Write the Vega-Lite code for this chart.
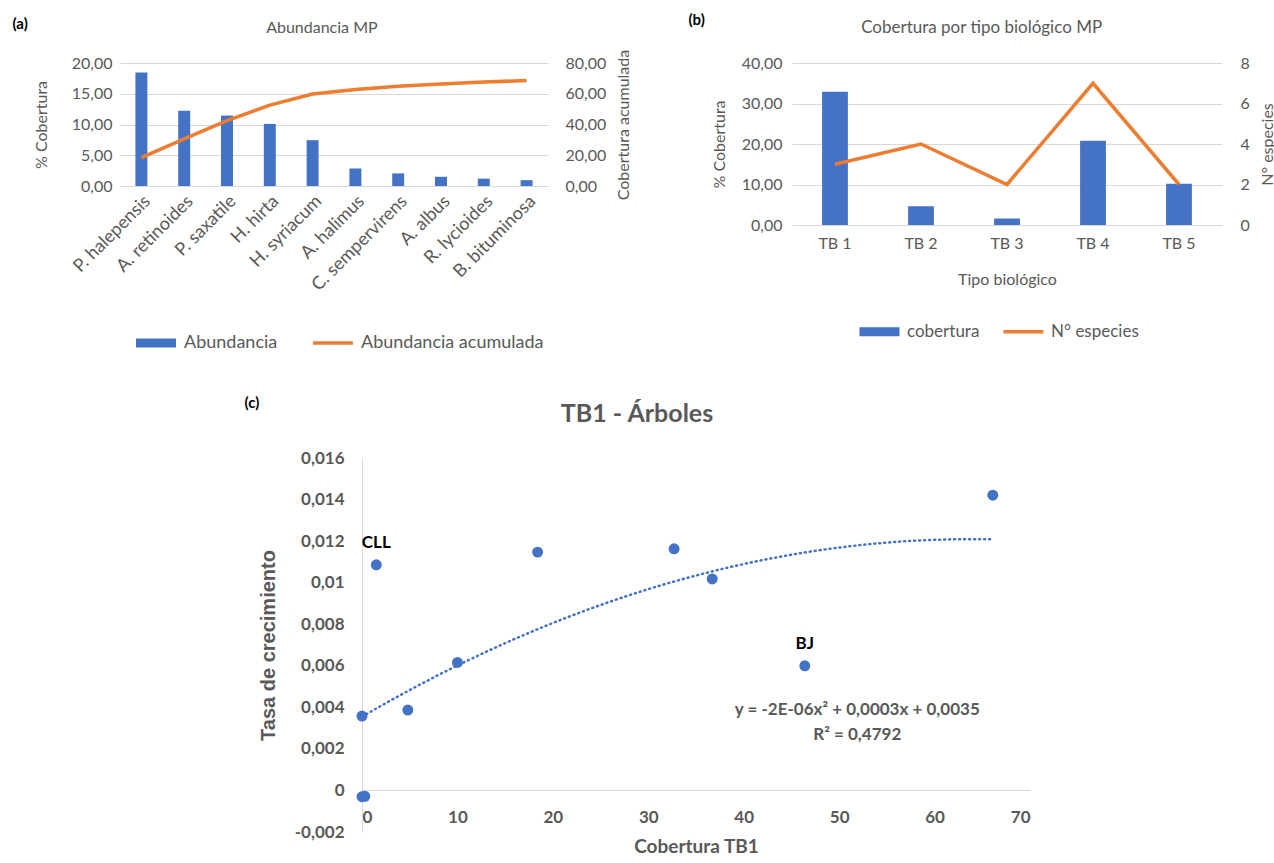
{
  "$schema": "https://vega.github.io/schema/vega-lite/v6.json",
  "background": "white",
  "padding": {"left": 12, "top": 12, "right": 0, "bottom": 0},
  "config": {
    "locale": {"number": {"decimal": ",", "thousands": ".", "grouping": [3], "currency": ["", " €"], "minus": "-"}},
    "font": "Lato",
    "view": {"stroke": null},
    "axis": {"labelColor": "#595959", "titleColor": "#595959", "labelFont": "Lato", "titleFont": "Lato", "labelFontSize": 16, "titleFontSize": 16, "titleFontWeight": "normal", "gridColor": "#d9d9d9", "domainColor": "#d9d9d9", "ticks": false},
    "legend": {"labelFont": "Lato", "labelFontSize": 16, "labelColor": "#595959", "labelLimit": 400},
    "title": {"font": "Lato", "fontWeight": "normal", "color": "#595959"}
  },
  "datasets": {
    "abundancia": [
      {"especie": "P. halepensis", "abundancia": 18.45, "acumulada": 18.4},
      {"especie": "A. retinoides", "abundancia": 12.25, "acumulada": 30.7},
      {"especie": "P. saxatile", "abundancia": 11.45, "acumulada": 42.5},
      {"especie": "H. hirta", "abundancia": 10.1, "acumulada": 52.6},
      {"especie": "H. syriacum", "abundancia": 7.45, "acumulada": 59.8},
      {"especie": "A. halimus", "abundancia": 2.85, "acumulada": 62.8},
      {"especie": "C. sempervirens", "abundancia": 2.05, "acumulada": 64.9},
      {"especie": "A. albus", "abundancia": 1.5, "acumulada": 66.3},
      {"especie": "R. lycioides", "abundancia": 1.2, "acumulada": 67.6},
      {"especie": "B. bituminosa", "abundancia": 0.95, "acumulada": 68.6}
    ],
    "tipos": [
      {"tipo": "TB 1", "cobertura": 32.9, "especies": 3},
      {"tipo": "TB 2", "cobertura": 4.6, "especies": 4},
      {"tipo": "TB 3", "cobertura": 1.6, "especies": 2},
      {"tipo": "TB 4", "cobertura": 20.8, "especies": 7},
      {"tipo": "TB 5", "cobertura": 10.2, "especies": 2}
    ],
    "crecimiento": [
      {"cobertura": 0, "tasa": 0.00358, "etiqueta": ""},
      {"cobertura": 0, "tasa": -0.0003, "etiqueta": ""},
      {"cobertura": 0.3, "tasa": -0.00028, "etiqueta": ""},
      {"cobertura": 1.5, "tasa": 0.01086, "etiqueta": "CLL"},
      {"cobertura": 4.8, "tasa": 0.00387, "etiqueta": ""},
      {"cobertura": 10.0, "tasa": 0.00616, "etiqueta": ""},
      {"cobertura": 18.4, "tasa": 0.01147, "etiqueta": ""},
      {"cobertura": 32.7, "tasa": 0.01163, "etiqueta": ""},
      {"cobertura": 36.7, "tasa": 0.01018, "etiqueta": ""},
      {"cobertura": 46.4, "tasa": 0.0060, "etiqueta": "BJ"},
      {"cobertura": 66.1, "tasa": 0.01421, "etiqueta": ""}
    ],
    "ecuacion": [
      {"x": 51.9, "y": 0.00387, "texto": "y = -2E-06x² + 0,0003x + 0,0035"},
      {"x": 51.9, "y": 0.00267, "texto": "R² = 0,4792"}
    ]
  },
  "bounds": "flush",
  "spacing": 395,
  "resolve": {"scale": {"color": "independent"}, "legend": {"color": "independent"}},
  "vconcat": [
    {
      "hconcat": [
        {
          "width": 428,
          "height": 123,
          "data": {"name": "abundancia"},
          "title": {"text": "Abundancia MP", "frame": "bounds", "anchor": "middle", "fontSize": 16, "offset": 0, "dy": 20},
          "layer": [
            {
              "mark": {"type": "bar"},
              "encoding": {
                "x": {"field": "especie", "type": "nominal", "sort": null, "scale": {"paddingInner": 0.72, "paddingOuter": 0.36}, "axis": {"title": null, "labelAngle": -45, "labelFontSize": 18, "domain": true, "labelPadding": 6}},
                "y": {"field": "abundancia", "type": "quantitative", "scale": {"domain": [0, 20], "nice": false}, "axis": {"title": "% Cobertura", "values": [0, 5, 10, 15, 20], "format": ".2f", "domain": false, "grid": true, "labelPadding": 8, "titlePadding": 22}},
                "color": {"datum": "Abundancia", "type": "nominal", "scale": {"domain": ["Abundancia", "Abundancia acumulada"], "range": ["#4472C4", "#ED7D31"]},
                  "legend": {"orient": "none", "legendX": 27, "legendY": 271, "direction": "horizontal", "title": null, "columnPadding": 28, "symbolSize": 1600, "labelOffset": 19, "labelFontSize": 18,
                    "encode": {"symbols": {"update": {
                      "shape": {"signal": "datum.value === 'Abundancia' ? 'M-1,-0.22H1V0.22H-1Z' : 'M-1,0H1'"},
                      "fill": {"signal": "datum.value === 'Abundancia' ? '#4472C4' : 'transparent'"},
                      "stroke": {"signal": "datum.value === 'Abundancia' ? 'transparent' : '#ED7D31'"},
                      "strokeWidth": {"signal": "datum.value === 'Abundancia' ? 0 : 3.5"},
                      "opacity": {"value": 1}
                    }}}}}
              }
            },
            {
              "mark": {"type": "line", "strokeWidth": 3.5},
              "encoding": {
                "x": {"field": "especie", "type": "nominal", "sort": null, "axis": {"orient": "top", "title": "(a)", "labels": false, "domain": false, "ticks": false, "titleX": -108, "titleY": -40, "titleAlign": "left", "titleBaseline": "middle", "titleFontWeight": "bold", "titleColor": "#000000", "titleFontSize": 15}},
                "y": {"field": "acumulada", "type": "quantitative", "scale": {"domain": [0, 80], "nice": false}, "axis": {"orient": "right", "title": "Cobertura acumulada", "values": [0, 20, 40, 60, 80], "format": ".2f", "grid": false, "domain": false, "labelPadding": 17, "titlePadding": 10, "titleAngle": 270, "titleBaseline": "top"}},
                "color": {"datum": "Abundancia acumulada", "type": "nominal"}
              }
            }
          ],
          "resolve": {"scale": {"y": "independent"}, "axis": {"x": "independent"}}
        },
        {
          "width": 430,
          "height": 162,
          "data": {"name": "tipos"},
          "title": {"text": "Cobertura por tipo biológico MP", "frame": "bounds", "anchor": "middle", "fontSize": 17, "offset": 0, "dy": 25},
          "layer": [
            {
              "mark": {"type": "bar"},
              "encoding": {
                "x": {"field": "tipo", "type": "nominal", "sort": null, "scale": {"paddingInner": 0.7, "paddingOuter": 0.35}, "axis": {"title": "Tipo biológico", "labelAngle": 0, "domain": true, "labelPadding": 10, "titlePadding": 20}},
                "y": {"field": "cobertura", "type": "quantitative", "scale": {"domain": [0, 40], "nice": false}, "axis": {"title": "% Cobertura", "values": [0, 10, 20, 30, 40], "format": ".2f", "domain": false, "grid": true, "labelPadding": 10, "titlePadding": 14}},
                "color": {"datum": "cobertura", "type": "nominal", "scale": {"domain": ["cobertura", "N° especies"], "range": ["#4472C4", "#ED7D31"]},
                  "legend": {"orient": "none", "legendX": 79, "legendY": 260, "direction": "horizontal", "title": null, "columnPadding": 16, "symbolSize": 1600, "labelOffset": 19, "labelFontSize": 17,
                    "encode": {"symbols": {"update": {
                      "shape": {"signal": "datum.value === 'cobertura' ? 'M-1,-0.22H1V0.22H-1Z' : 'M-1,0H1'"},
                      "fill": {"signal": "datum.value === 'cobertura' ? '#4472C4' : 'transparent'"},
                      "stroke": {"signal": "datum.value === 'cobertura' ? 'transparent' : '#ED7D31'"},
                      "strokeWidth": {"signal": "datum.value === 'cobertura' ? 0 : 3.5"},
                      "opacity": {"value": 1}
                    }}}}}
              }
            },
            {
              "mark": {"type": "line", "strokeWidth": 3.5},
              "encoding": {
                "x": {"field": "tipo", "type": "nominal", "sort": null, "axis": {"orient": "top", "title": "(b)", "labels": false, "domain": false, "ticks": false, "titleX": -104, "titleY": -44, "titleAlign": "left", "titleBaseline": "middle", "titleFontWeight": "bold", "titleColor": "#000000", "titleFontSize": 15}},
                "y": {"field": "especies", "type": "quantitative", "scale": {"domain": [0, 8], "nice": false}, "axis": {"orient": "right", "title": "N° especies", "values": [0, 2, 4, 6, 8], "format": "d", "grid": false, "domain": false, "labelPadding": 18, "titlePadding": 10, "titleAngle": 270, "titleBaseline": "top"}},
                "color": {"datum": "N° especies", "type": "nominal"}
              }
            }
          ],
          "resolve": {"scale": {"y": "independent"}, "axis": {"x": "independent"}}
        }
      ],
      "spacing": 244,
      "bounds": "flush",
      "resolve": {"scale": {"color": "independent"}, "legend": {"color": "independent"}}
    },
    {
      "hconcat": [
        {"width": 242, "height": 10, "data": {"values": []}, "mark": "point", "encoding": {}},
        {
          "width": 668,
          "height": 374,
          "title": {"text": "TB1 - Árboles", "frame": "bounds", "anchor": "middle", "fontSize": 25, "fontWeight": "bold", "offset": 0, "dy": 32},
          "layer": [
            {
              "data": {"name": "crecimiento"},
              "transform": [{"regression": "tasa", "on": "cobertura", "method": "poly", "order": 2}],
              "mark": {"type": "line", "color": "#4472C4", "strokeWidth": 2.5, "strokeDash": [1, 4], "strokeCap": "round"},
              "encoding": {
                "x": {"field": "cobertura", "type": "quantitative", "scale": {"domain": [0, 70], "nice": false}, "axis": {"title": "Cobertura TB1", "values": [0, 10, 20, 30, 40, 50, 60, 70], "offset": -42, "domain": true, "grid": false, "labelPadding": 19, "titlePadding": 12, "labelFontWeight": "bold", "labelFontSize": 17, "titleFontWeight": "bold", "titleFontSize": 19}},
                "y": {"field": "tasa", "type": "quantitative", "scale": {"domain": [-0.002, 0.016], "nice": false}, "axis": {"title": "Tasa de crecimiento", "values": [-0.002, 0, 0.002, 0.004, 0.006, 0.008, 0.01, 0.012, 0.014, 0.016], "format": ".3~f", "domain": true, "grid": false, "labelPadding": 18, "titlePadding": 16, "labelFontWeight": "bold", "labelFontSize": 17, "titleFont": "Liberation Sans", "titleFontWeight": "bold", "titleFontSize": 20}}
              }
            },
            {
              "data": {"name": "crecimiento"},
              "mark": {"type": "circle", "size": 120, "opacity": 1, "color": "#4472C4"},
              "encoding": {
                "x": {"field": "cobertura", "type": "quantitative", "axis": null},
                "y": {"field": "tasa", "type": "quantitative"}
              }
            },
            {
              "data": {"name": "crecimiento"},
              "mark": {"type": "text", "dy": -22, "fontWeight": "bold", "fontSize": 17, "color": "#000000", "font": "Lato"},
              "encoding": {
                "x": {"field": "cobertura", "type": "quantitative", "axis": null},
                "y": {"field": "tasa", "type": "quantitative"},
                "text": {"field": "etiqueta"}
              }
            },
            {
              "data": {"name": "ecuacion"},
              "mark": {"type": "text", "fontWeight": "bold", "fontSize": 17, "color": "#595959", "font": "Lato"},
              "encoding": {
                "x": {"field": "x", "type": "quantitative", "axis": {"orient": "top", "title": "(c)", "labels": false, "domain": false, "ticks": false, "grid": false, "titleX": -118, "titleY": -56, "titleAlign": "left", "titleBaseline": "middle", "titleFontWeight": "bold", "titleColor": "#000000", "titleFontSize": 15}},
                "y": {"field": "y", "type": "quantitative"},
                "text": {"field": "texto"}
              }
            }
          ],
          "resolve": {"axis": {"x": "independent"}}
        }
      ],
      "spacing": 0,
      "bounds": "flush"
    }
  ]
}
